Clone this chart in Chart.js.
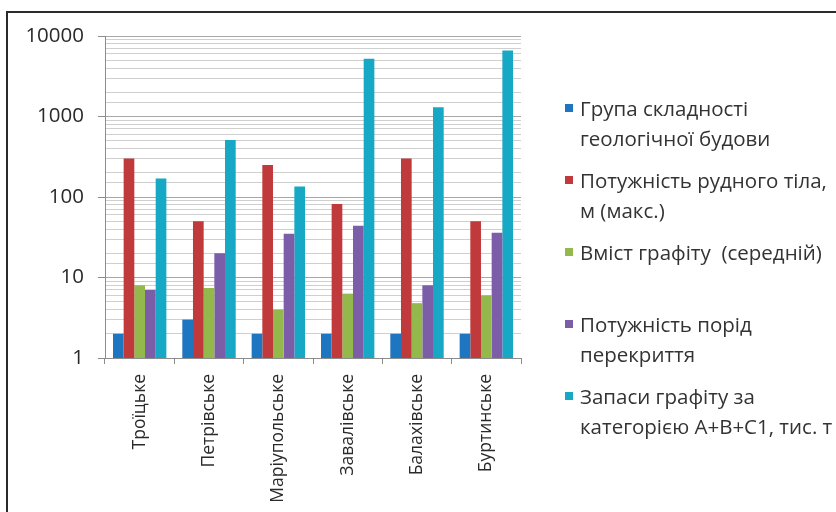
<!DOCTYPE html>
<html>
<head>
<meta charset="utf-8" />
<script src="https://cdn.jsdelivr.net/npm/chart.js@4.4.0/dist/chart.umd.min.js"></script>
<style>
  body { margin:0; background:#fff; font-family:'Open Sans',sans-serif; }
  #wrap { position:relative; width:836px; height:512px; overflow:hidden; background:#fff; }
  #frame { position:absolute; left:6px; top:11px; right:-10px; bottom:-10px; border-top:2px solid #2a2a2a; border-left:2px solid #2a2a2a; }
  #chart { position:absolute; left:0; top:0; }
  #legend { position:absolute; left:565px; top:93px; color:#333; font-size:20.5px; line-height:30px; white-space:pre; }
  .item { height:72px; position:relative; padding-left:15px; }
  .item i { position:absolute; left:0; top:11px; width:8px; height:8px; }
</style>
</head>
<body>
<div id="wrap">
  <canvas id="chart" width="836" height="512"></canvas>
  <div id="frame"></div>
  <div id="legend"></div>
</div>

<script>
// categories (deposits)
const deposits = ["Троїцьке", "Петрівське", "Маріупольське", "Завалівське", "Балахівське", "Буртинське"];

// series names, as lines of the legend
const seriesNames = [
  ["Група складності", "геологічної будови"],
  ["Потужність рудного тіла,", "м (макс.)"],
  ["Вміст графіту  (середній)", ""],
  ["Потужність порід", "перекриття"],
  ["Запаси графіту за", "категорією А+В+С1, тис. т"]
];
const seriesColors = ["#1f76c0", "#c03a3c", "#93b84c", "#7b5ea7", "#16a8c4"];

// values (log axis)
const complexityGroup = [2, 3, 2, 2, 2, 2];
const oreThickness    = [300, 50, 250, 82, 300, 50];
const graphiteContent = [8, 7.4, 4, 6.3, 4.8, 6];
const overburden      = [7, 20, 35, 44, 8, 36];
const reserves        = [170, 510, 135, 5200, 1300, 6600];

const yLabels = [1, 10, 100, 1000, 10000];

const seriesValues = [complexityGroup, oreThickness, graphiteContent, overburden, reserves];

const isDecade = v => yLabels.includes(v);
const FONT = "'Open Sans', sans-serif";

new Chart(document.getElementById("chart"), {
  type: "bar",
  data: {
    labels: deposits,
    datasets: seriesValues.map((vals, i) => ({
      label: seriesNames[i].join(" ").trim(),
      data: vals,
      backgroundColor: seriesColors[i],
      borderWidth: 0,
      categoryPercentage: 0.77,
      barPercentage: 1
    }))
  },
  options: {
    responsive: false,
    animation: false,
    devicePixelRatio: 1,
    layout: { padding: { left: 0, top: 36, right: 315, bottom: 0 } },
    plugins: { legend: { display: false }, tooltip: { enabled: false } },
    scales: {
      x: {
        grid: { drawOnChartArea: false, offset: true, tickLength: 6, color: "#8c8c8c" },
        border: { color: "#8c8c8c" },
        ticks: { minRotation: 90, maxRotation: 90, padding: 10, color: "#2a2a2a",
                 font: { family: FONT, size: 17.5 } },
        afterFit: s => { s.height = 154; }
      },
      y: {
        type: "logarithmic",
        min: 1, max: 10000,
        border: { color: "#8c8c8c" },
        grid: {
          color: ctx => isDecade(ctx.tick.value) ? "#a8a8a8" : "#cfcfcf",
          tickColor: ctx => isDecade(ctx.tick.value) ? "#8c8c8c" : "rgba(0,0,0,0)",
          tickLength: 7
        },
        ticks: {
          autoSkip: false, padding: 14, color: "#2a2a2a",
          font: { family: FONT, size: 20.5 },
          callback: v => isDecade(v) ? String(v) : ""
        },
        afterFit: s => { s.width = 105; }
      }
    }
  }
});

// legend as text next to the chart
const legend = document.getElementById("legend");
seriesNames.forEach((lines, i) => {
  const d = document.createElement("div");
  d.className = "item";
  d.innerHTML = '<i style="background:' + seriesColors[i] + '"></i>' +
    lines.map(t => "<div>" + (t || " ") + "</div>").join("");
  legend.appendChild(d);
});
</script>
</body>
</html>
